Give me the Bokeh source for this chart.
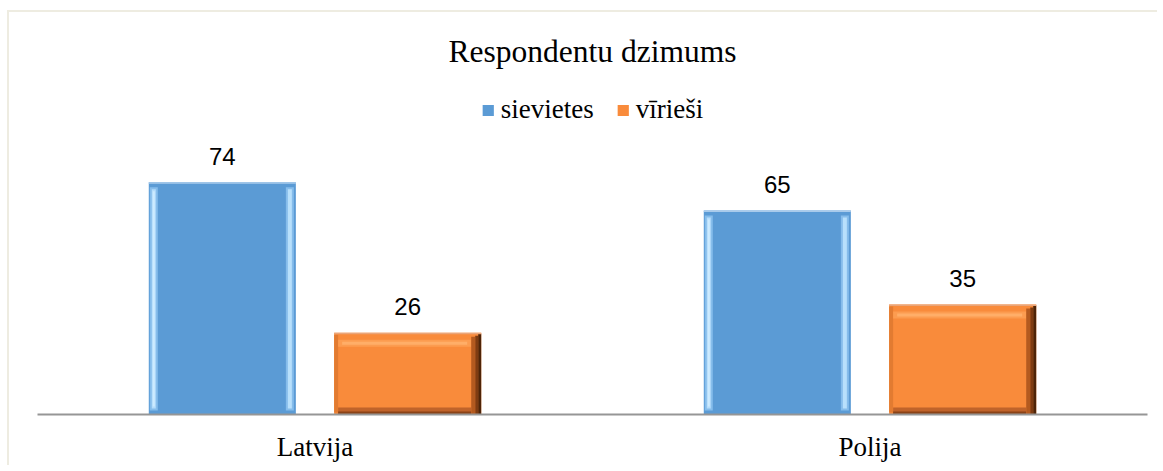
from bokeh.plotting import figure
from bokeh.models import ColumnDataSource, FactorRange, Range1d, Label, Legend, LegendItem
from bokeh.transform import dodge
from bokeh.core.properties import value
from bokeh.embed import file_html
from bokeh.resources import INLINE

# ---- data ----
categories = ["Latvija", "Polija"]
sievietes = [74, 65]
virieši = [26, 35]
series_names = ["sievietes", "vīrieši"]
title_text = "Respondentu dzimums"

# ---- geometry / style ----
W = 0.265          # bar width (category units)
OFF = 0.167        # dodge offset
PX_X = 1 / 555.0   # one pixel horizontally in category units
PX_Y = 1 / 3.14    # one pixel vertically in value units
BAR_PX = W / PX_X
FRAME_H = 402

p = figure(x_range=FactorRange(factors=categories, range_padding=0),
           y_range=Range1d(0, FRAME_H * PX_Y),
           width=1150, height=455, title=None,
           output_backend="svg", toolbar_location=None,
           min_border_left=28, min_border_right=12,
           min_border_top=0, min_border_bottom=455 - FRAME_H)
p.styles = {"border-left": "2px solid #EEECE1", "border-top": "2px solid #EEECE1",
            "margin-left": "7px", "margin-top": "10px"}


def add_series(vals, off, fill, bands):
    src = ColumnDataSource(dict(cat=categories, top=vals, label=[str(v) for v in vals]))
    r = p.vbar(x=dodge("cat", off, range=p.x_range), top="top", bottom=0, width=W,
               source=src, fill_color=fill, line_color=None)
    for (x0, x1, y0, y1, color) in bands:
        # x0/x1 pixel offsets from the bar's left edge
        cx = off - W / 2 + (x0 + x1) / 2 * PX_X
        w = (x1 - x0) * PX_X

        def yv(spec):
            kind, px = spec
            if kind == "top":
                return [v - px * PX_Y for v in vals]
            return [px * PX_Y for v in vals]
        bsrc = ColumnDataSource(dict(cat=categories, t=yv(y1), b=yv(y0)))
        p.vbar(x=dodge("cat", cx, range=p.x_range), top="t", bottom="b", width=w,
               source=bsrc, fill_color=color, line_color=None)
    p.text(x=dodge("cat", off, range=p.x_range), y="top", text="label", source=src,
           text_align="center", text_baseline="alphabetic", y_offset=-26,
           text_font=value("Liberation Sans"), text_font_size="24px", text_color="#000000")
    return r


B = BAR_PX
blue_bands = [
    (1, 9, ("base", 4), ("top", 5), "#86BDEB"),
    (3, 7, ("base", 6), ("top", 7), "#B5DDFB"),
    (4, 6, ("base", 8), ("top", 9), "#CDEBFF"),
    (B - 10, B - 2, ("base", 4), ("top", 5), "#86BDEB"),
    (B - 8, B - 4, ("base", 6), ("top", 7), "#B8E0FC"),
    (0, B, ("top", 1.5), ("top", 0), "#A9CBEB"),
]
orange_bands = [
    (0, 4, ("base", 2), ("top", 2), "#E27B31"),
    (4, B - 10, ("top", 14), ("top", 7), "#FC9C50"),
    (8, B - 14, ("top", 12), ("top", 9), "#FFAE68"),
    (4, B - 10, ("base", 0), ("base", 7), "#C0632A"),
    (4, B - 10, ("base", 0), ("base", 3), "#8A4317"),
    (B - 10, B - 6, ("base", 0), ("top", 4), "#B45A1F"),
    (B - 6, B - 3, ("base", 0), ("top", 3), "#7F3C12"),
    (B - 3, B, ("base", 0), ("top", 1), "#4E2408"),
    (0, B, ("top", 1.5), ("top", 0), "#E9A57A"),
]

r1 = add_series(sievietes, -OFF, "#5B9BD5", blue_bands)
r2 = add_series(virieši, OFF, "#F98B3B", orange_bands)

legend = Legend(items=[LegendItem(label=series_names[0], renderers=[r1]),
                       LegendItem(label=series_names[1], renderers=[r2])],
                orientation="horizontal", location="top_center", margin=82,
                padding=0, spacing=22, label_standoff=6,
                glyph_width=14, glyph_height=14,
                label_text_font="Liberation Serif", label_text_font_size="27px",
                label_text_color="#000000",
                border_line_color=None, background_fill_alpha=0)
p.add_layout(legend)

p.add_layout(Label(x=555, y=363, x_units="screen", y_units="screen", text=title_text,
                   text_align="center", text_baseline="alphabetic",
                   text_font="Liberation Serif", text_font_size="31.5px", text_color="#000000"))

p.yaxis.visible = False
p.xgrid.visible = False
p.ygrid.visible = False
p.outline_line_color = None
p.xaxis.axis_line_color = "#969696"
p.xaxis.axis_line_width = 2
p.xaxis.major_tick_line_color = None
p.xaxis.minor_tick_line_color = None
p.xaxis.major_tick_out = 0
p.xaxis.major_label_standoff = 17
p.xaxis.major_label_text_font = "Liberation Serif"
p.xaxis.major_label_text_font_size = "27px"
p.xaxis.major_label_text_color = "#000000"

open("out.html", "w").write(file_html(p, INLINE))
